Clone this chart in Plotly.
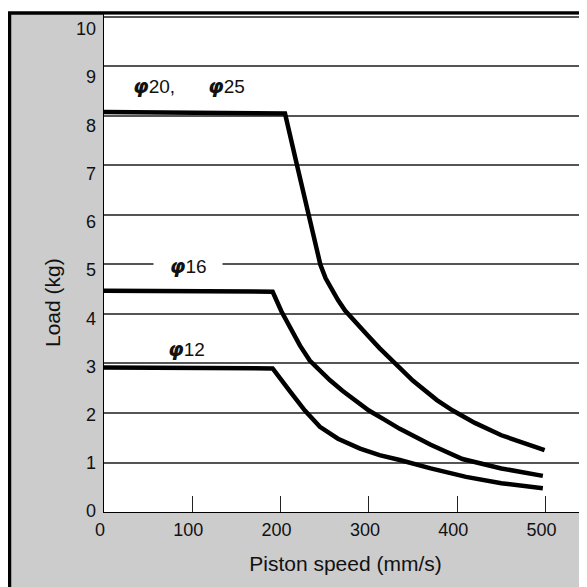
import plotly.graph_objects as go

# piston speed (mm/s) vs allowable load (kg)
speed_25 = [0, 205, 218, 231.5, 245, 251, 258, 265, 273, 286, 299, 312, 326, 350, 377, 395, 420, 450, 499]
load_25 = [8.08, 8.05, 7.05, 6.05, 5.0, 4.72, 4.48, 4.28, 4.07, 3.8, 3.56, 3.31, 3.06, 2.65, 2.26, 2.05, 1.8, 1.55, 1.25]

speed_16 = [0, 191, 201, 212, 222, 233, 245, 256, 270, 285, 300, 318, 335, 370, 406, 450, 497]
load_16 = [4.47, 4.45, 4.05, 3.67, 3.36, 3.06, 2.84, 2.66, 2.45, 2.24, 2.05, 1.86, 1.68, 1.36, 1.07, 0.88, 0.73]

speed_12 = [0, 191, 210, 227.5, 244.5, 255, 265, 290, 312, 335, 370, 410, 450, 497]
load_12 = [2.92, 2.9, 2.45, 2.05, 1.72, 1.59, 1.48, 1.28, 1.15, 1.05, 0.88, 0.71, 0.58, 0.48]

x_ticks = [0, 100, 200, 300, 400, 500]
y_ticks = [0, 1, 2, 3, 4, 5, 6, 7, 8, 9, 10]

#The page body has an 8px margin, so the figure is drawn 8px in and 8px down
OFF = 8
W = H = 587 - OFF
FONT = 'Liberation Sans, Arial, sans-serif'
PHI = '<span style="font-family:DejaVu Sans;font-size:20px"><b><i>\u03c6</i></b></span>'
NB = '\u00a0'

fig = go.Figure()
for xs, ys in ((speed_25, load_25), (speed_16, load_16), (speed_12, load_12)):
  fig.add_trace(go.Scatter(x = xs, y = ys, mode = 'lines', line = dict(color = 'black', width = 4.5), showlegend = False, hoverinfo = 'skip'))
#empty trace so the label axis gets drawn
fig.add_trace(go.Scatter(x = [], y = [], yaxis = 'y2', showlegend = False, hoverinfo = 'skip'))

# plot area in reference pixels: left 104, right 587 (cut off), top 14, bottom 512
dom_x = [(104 - OFF) / W, 1]
dom_y = [(H - (512 - OFF)) / H, (H - (14 - OFF)) / H]

fig.update_layout(
  width = W, height = H,
  margin = dict(l = 0, r = 0, t = 0, b = 0),
  paper_bgcolor = 'white', plot_bgcolor = 'white',
  font = dict(family = FONT, size = 18, color = '#111'),
  shapes = [
    # grey panel with black frame (right/bottom edges run off the picture)
    dict(type = 'rect', xref = 'paper', yref = 'paper', x0 = (9.5 - OFF) / W, x1 = 1.02, y0 = -0.02, y1 = (H - (13 - OFF)) / H,
         fillcolor = '#cccccc', line = dict(color = 'black', width = 3.5), layer = 'below'),
    dict(type = 'rect', xref = 'paper', yref = 'paper', x0 = dom_x[0], x1 = 1.02, y0 = dom_y[0], y1 = (H - (14.8 - OFF)) / H,
         fillcolor = 'white', line = dict(width = 0), layer = 'below'),
  ],
)

fig.update_xaxes(
  domain = dom_x, range = [0, 547], tickvals = x_ticks, ticks = 'inside', ticklen = 16, tickwidth = 1, tickcolor = '#222',
  showgrid = False, zeroline = False, showline = True, linecolor = 'black', linewidth = 1,
  ticklabelstandoff = 1, ticklabelshift = -4, automargin = False,
  title = dict(text = 'Piston speed (mm/s)', standoff = 17, font = dict(size = 21)),
)
fig.update_layout(
  #gridlines
  yaxis = dict(domain = dom_y, range = [0, 10.06], tickvals = y_ticks, ticks = '', showticklabels = False,
               showgrid = True, gridcolor = '#555', gridwidth = 1.5, zeroline = False,
               showline = True, linecolor = 'black', linewidth = 1, automargin = False),
  #the printed labels creep upward a little faster than the gridlines do
  yaxis2 = dict(overlaying = 'y', side = 'left', anchor = 'x', range = [-0.02, 10.31], tickvals = y_ticks, ticks = '',
                showgrid = False, zeroline = False, showline = False, ticklabelstandoff = 7, ticklabeloverflow = 'allow',
                automargin = False),
)

#y title placed by hand, it sits closer to the labels than standoff 0 allows
fig.add_annotation(xref = 'paper', yref = 'paper', x = (52 - OFF) / W, y = 1 - (303 - OFF) / H, text = 'Load (kg)',
                   xanchor = 'center', yanchor = 'middle', textangle = -90, showarrow = False,
                   font = dict(family = FONT, size = 21, color = '#111'))

lab = dict(font = dict(family = FONT, size = 19, color = '#111'), showarrow = False, xref = 'x', yref = 'y')
fig.add_annotation(x = 56.7, y = 8.6, text = PHI + '20,', **lab)
fig.add_annotation(x = 139, y = 8.6, text = PHI + '25', **lab)
fig.add_annotation(x = 94.8, y = 4.96, text = NB * 3 + PHI + '16' + NB * 3, bgcolor = 'white', borderpad = 0, **lab)
fig.add_annotation(x = 93, y = 3.3, text = PHI + '12', **lab)

fig.write_html('out.html')
